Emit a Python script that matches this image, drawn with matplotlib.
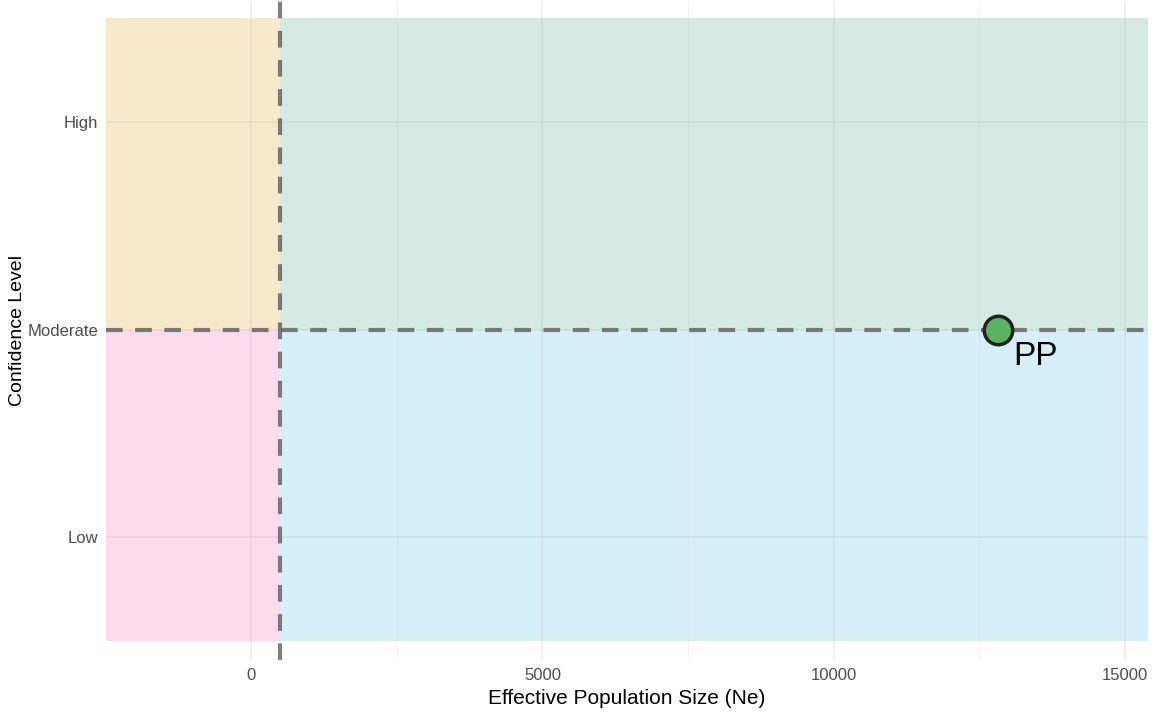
import matplotlib.pyplot as plt
from matplotlib.ticker import MultipleLocator

# data
levels = ["Low", "Moderate", "High"]
level_pos = [1, 2, 3]
pop_names = ["PP"]
pop_ne = [12820]
pop_conf = ["Moderate"]

ne_threshold = 500
conf_threshold = "Moderate"

x_range = [-2490, 15400]
y_range = [0.5, 3.5]

# quadrant colours: (x side, y side) -> colour
quadrants = [
    ("low", "high", "#F9E9CB"),
    ("high", "high", "#D5EAE3"),
    ("low", "low", "#FDDAEE"),
    ("high", "low", "#D7EFF9"),
]

plt.rcParams['font.family'] = ['Liberation Sans', 'DejaVu Sans']

fig, ax = plt.subplots(figsize=(11.56, 7.22), dpi=100)
fig.subplots_adjust(left=0.092, right=0.993, top=0.999, bottom=0.086)

yc = level_pos[levels.index(conf_threshold)]
for xs, ys, col in quadrants:
    x0, x1 = (x_range[0], ne_threshold) if xs == "low" else (ne_threshold, x_range[1])
    y0, y1 = (y_range[0], yc) if ys == "low" else (yc, y_range[1])
    ax.fill_between([x0, x1], y0, y1, color=col, lw=0, zorder=1)

# grid drawn over the fills, like ggplot's light lines showing through
ax.xaxis.set_major_locator(MultipleLocator(5000))
ax.xaxis.set_minor_locator(MultipleLocator(2500))
ax.grid(which="major", axis="both", color="#b0b0b0", alpha=0.25, lw=1.1, zorder=2)
ax.grid(which="minor", axis="x", color="#b0b0b0", alpha=0.15, lw=0.8, zorder=2)

ax.axvline(ne_threshold, color="#555555", alpha=0.75, lw=3, ls=(0, (4, 3)), zorder=3)
ax.axhline(yc, color="#555555", alpha=0.75, lw=3, ls=(0, (4, 3)), zorder=3)

ys_pts = [level_pos[levels.index(c)] for c in pop_conf]
ax.scatter(pop_ne, ys_pts, s=420, c="#5DB162", edgecolors="#222222", linewidths=2.5, zorder=4)
for name, x, y in zip(pop_names, pop_ne, ys_pts):
    ax.annotate(name, (x, y), xytext=(27, -19), textcoords="offset points",
                ha="center", va="center", fontsize=24, color="black", zorder=5)

ax.set_xlim(x_range[0], x_range[1])
ax.set_ylim(0.41, 3.585)
ax.set_yticks(level_pos)
ax.set_yticklabels(levels)
ax.set_xticks([0, 5000, 10000, 15000])

for s in ax.spines.values():
    s.set_visible(False)
ax.tick_params(which="both", length=0, labelsize=12, labelcolor="#4d4d4d", pad=6)

ax.set_xlabel("Effective Population Size (Ne)", fontsize=15, labelpad=4)
ax.set_ylabel("Confidence Level", fontsize=14, labelpad=1)

plt.savefig("out.png", dpi=100)
